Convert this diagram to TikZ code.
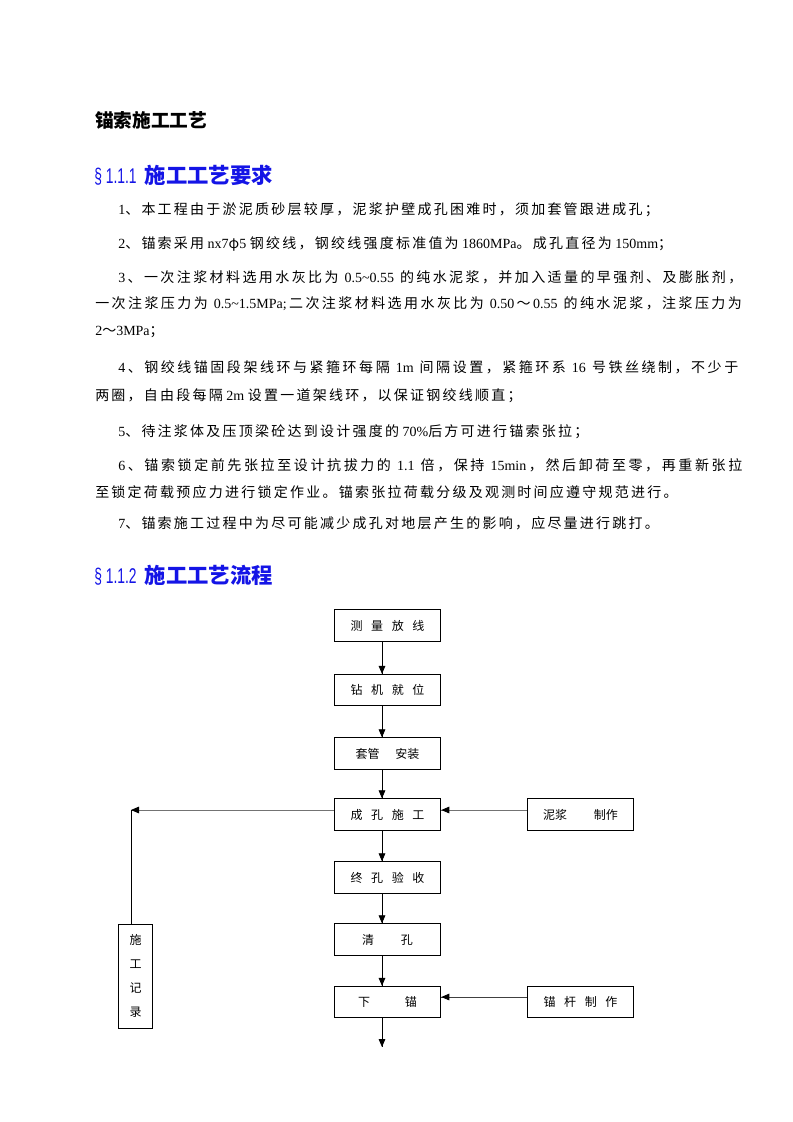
\documentclass[tikz,border=0pt]{standalone}
\usepackage{fontspec}
\setmainfont{Liberation Serif}
\newfontfamily\cjk[LetterSpace=16]{Noto Sans CJK SC}
\newfontfamily\cjkhead{Noto Sans CJK SC}
\newfontfamily\cjkbox{Noto Sans CJK SC}
\newfontfamily\arial{Liberation Sans}
\newcommand\tnr[1]{{\rmfamily #1}}
\newcommand\gp{\hspace{6.5pt}}
\def\jx#1{\ifx\relax#1\else#1\hskip 0pt plus 1fil\relax\expandafter\jx\fi}
\newcommand\jline[2]{\hbox to #1{\jx #2\relax\hskip 0pt plus -1fil\relax}}
\newcommand\secnum[1]{\scalebox{0.65}[1]{\arial § #1}\hspace{6pt}}
\newcommand\bodyfont{\fontsize{10.5}{10.5}\selectfont\cjk}
\newcommand\boxfont{\fontsize{9}{18}\selectfont\cjkbox}
\definecolor{headblue}{RGB}{20,20,230}
\tikzset{->/.style = {decoration={markings, mark=at position 1 with {\arrow[scale=1, black]{Triangle[length=6pt,width=5pt]}}}, postaction={decorate}}}
\tikzset{stepbox/.style = {draw, line width=0.75pt, minimum width=80pt, minimum height=23.5pt, inner sep=0pt, font=\boxfont}}
\tikzset{bodyline/.style = {anchor=base west, inner sep=0pt, font=\bodyfont}}
\usetikzlibrary{arrows.meta,
                 decorations.markings}

\begin{document}
\begin{tikzpicture}[x=0.75pt, y=-0.75pt]
  \useasboundingbox (0,0) rectangle (793,1122);
  \node[anchor=base west, inner sep=0pt, font=\fontsize{14}{14}\selectfont\cjkhead\bfseries] (title) at (95,127) {锚索施工工艺};
  \node[anchor=base west, inner sep=0pt, text=headblue, font=\fontsize{16}{16}\selectfont] (sec1) at (94,183) {\secnum{1.1.1}{\cjkhead\bfseries 施工工艺要求}};

  \node[bodyline] (l1) at (118,214) {\tnr{1}、本工程由于淤泥质砂层较厚，泥浆护壁成孔困难时，须加套管跟进成孔；};
  \node[bodyline] (l2) at (118,248) {\tnr{2}、锚索采用\tnr{ nx7}φ\tnr{5 }钢绞线，钢绞线强度标准值为\tnr{ 1860MPa}。成孔直径为\tnr{ 150mm}；};
  \node[bodyline] (l3) at (118,282) {\jline{468pt}{{\tnr{3}}、一次注浆材料选用水灰比为{\tnr{ 0.5\textasciitilde0.55 }}的纯水泥浆，并加入适量的早强剂、及膨胀剂，}};
  \node[bodyline] (l3b) at (95,308) {\jline{485pt}{一次注浆压力为{\tnr{ 0.5\textasciitilde1.5MPa;}}二次注浆材料选用水灰比为{\tnr{ 0.50}}～{\tnr{0.55 }}的纯水泥浆，注浆压力为}};
  \node[bodyline] (l3c) at (95,335) {\tnr{2}～\tnr{3MPa}；};
  \node[bodyline] (l4) at (118,372) {\jline{465pt}{{\tnr{4}}、钢绞线锚固段架线环与紧箍环每隔{\tnr{ 1m }}间隔设置，紧箍环系{\tnr{ 16 }}号铁丝绕制，不少于}};
  \node[bodyline] (l4b) at (95,400) {两圈，自由段每隔\tnr{ 2m }设置一道架线环，以保证钢绞线顺直；};
  \node[bodyline] (l5) at (118,436) {\tnr{5}、待注浆体及压顶梁砼达到设计强度的\tnr{ 70\%}后方可进行锚索张拉；};
  \node[bodyline] (l6) at (118,470) {\jline{468pt}{{\tnr{6}}、锚索锁定前先张拉至设计抗拔力的{\tnr{ 1.1 }}倍，保持{\tnr{ 15min}}，然后卸荷至零，再重新张拉}};
  \node[bodyline] (l6b) at (95,497) {至锁定荷载预应力进行锁定作业。锚索张拉荷载分级及观测时间应遵守规范进行。};
  \node[bodyline] (l7) at (118,528) {\tnr{7}、锚索施工过程中为尽可能减少成孔对地层产生的影响，应尽量进行跳打。};

  \node[anchor=base west, inner sep=0pt, text=headblue, font=\fontsize{16}{16}\selectfont] (sec2) at (94,583) {\secnum{1.1.2}{\cjkhead\bfseries 施工工艺流程}};

  \node[stepbox] (survey) at (387.5,625.5) {测\gp 量\gp 放\gp 线};
  \node[stepbox] (drill) at (387.5,690) {钻\gp 机\gp 就\gp 位};
  \node[stepbox] (casing) at (387.5,753.5) {套管\hspace{12pt}安装};
  \node[stepbox] (bore) at (387.5,814.5) {成\gp 孔\gp 施\gp 工};
  \node[stepbox] (check) at (387.5,877.5) {终\gp 孔\gp 验\gp 收};
  \node[stepbox] (clean) at (387.5,939.5) {清\hspace{20pt}孔};
  \node[stepbox] (insert) at (387.5,1002) {下\hspace{26pt}锚};
  \node[stepbox] (slurry) at (580.5,814.5) {泥浆\hspace{20pt}制作};
  \node[stepbox] (tendon) at (580.5,1002) {锚\gp 杆\gp 制\gp 作};
  \node[stepbox, minimum width=26pt, minimum height=78pt, align=center] (record) at (135.5,976) {施\\工\\记\\录};

  \coordinate (spine) at (382,0);
  \coordinate (row1) at (0,810);
  \coordinate (row2) at (0,997);
  \coordinate (corner) at (131,810);
  \coordinate (tail) at (382,1047);

  \draw [->, line width=0.6pt] (survey.south -| spine) -- (drill.north -| spine);
  \draw [->, line width=0.6pt] (drill.south -| spine) -- (casing.north -| spine);
  \draw [->, line width=0.6pt] (casing.south -| spine) -- (bore.north -| spine);
  \draw [->, line width=0.6pt] (bore.south -| spine) -- (check.north -| spine);
  \draw [->, line width=0.6pt] (check.south -| spine) -- (clean.north -| spine);
  \draw [->, line width=0.6pt] (clean.south -| spine) -- (insert.north -| spine);
  \draw [->, line width=0.6pt] (insert.south -| spine) -- (tail);
  \draw [->, line width=0.6pt, black!55] (slurry.west |- row1) -- (bore.east |- row1);
  \draw [->, line width=0.6pt, black!55] (bore.west |- row1) -- (corner);
  \draw [line width=0.6pt] (record.north -| corner) -- (corner);
  \draw [->, line width=0.6pt, black!75] (tendon.west |- row2) -- (insert.east |- row2);
\end{tikzpicture}
\end{document}
